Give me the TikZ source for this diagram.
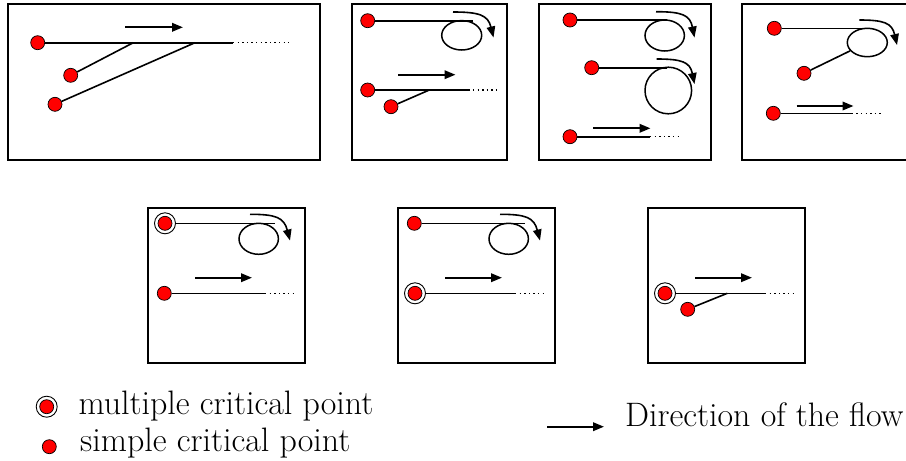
\documentclass[tikz,border=0pt]{standalone}
\usetikzlibrary{arrows.meta,shapes.geometric}
\begin{document}
\begin{tikzpicture}[x=1pt,y=-1pt,
  frame/.style={draw,line width=1.5pt},
  flow/.style={line width=1.6pt},
  dots/.style={line width=1.4pt,dash pattern=on 1.4pt off 3.2pt},
  dirarrow/.style={line width=2pt,-{Triangle[length=11pt,width=8.5pt]}},
  turnarrow/.style={line width=1.6pt,-{Triangle[length=11pt,width=8.5pt]}},
  cp/.style={circle,draw,fill=red,line width=0.7pt,minimum size=14pt,inner sep=0pt},
  ring/.style={circle,draw,line width=0.9pt,minimum size=21pt,inner sep=0pt},
  loop/.style={ellipse,draw,line width=1.5pt,inner sep=0pt},
  lbl/.style={anchor=base west,inner sep=0pt,font=\fontsize{33.9}{40}\selectfont}]
\clip (0,0) rectangle (906,461);
\fill[white] (0,0) rectangle (906,461);

% ---------- Box 1 ----------
\draw[frame] (8,4) rectangle (320,160);
\node[cp] (a1) at (37.7,42.7) {};
\node[cp] (a2) at (70.7,75.3) {};
\node[cp] (a3) at (55,104.3) {};
\coordinate (a1e) at (233,42.7);
\coordinate (a1f) at (289,42.7);
\coordinate (a2e) at (133.3,42.7);
\coordinate (a3e) at (195,42.7);
\draw[flow] (a1) -- (a1e);
\draw[dots] (a1e) -- (a1f);
\draw[flow] (a2) -- (a2e);
\draw[flow] (a3) -- (a3e);
\coordinate (ar1s) at (125,27.3);
\coordinate (ar1e) at (183,27.3);
\draw[dirarrow] (ar1s) -- (ar1e);

% ---------- Box 2 ----------
\draw[frame] (352,4) rectangle (507,160);
\node[cp] (b1) at (367.7,20.7) {};
\coordinate (b1e) at (473,20.7);
\draw[flow] (b1) -- (b1e);
\node[loop,minimum width=40pt,minimum height=29.4pt] (be) at (461.7,35.3) {};
\coordinate (bt1) at (453,12);
\coordinate (bt2) at (493.5,37.5);
\draw[turnarrow] (bt1) .. controls (479,12) and (488,15) .. (bt2);
\coordinate (ar2s) at (398.3,74.7);
\coordinate (ar2e) at (455.5,74.7);
\draw[dirarrow] (ar2s) -- (ar2e);
\node[cp] (b2) at (367.7,90) {};
\coordinate (b2e) at (468.3,90);
\coordinate (b2f) at (500,90);
\draw[flow] (b2) -- (b2e);
\draw[dots] (b2e) -- (b2f);
\node[cp] (b3) at (391,106.7) {};
\coordinate (b3e) at (429.3,90);
\draw[flow] (b3) -- (b3e);

% ---------- Box 3 ----------
\draw[frame] (539,4) rectangle (711,160);
\node[cp] (c1) at (570,20) {};
\coordinate (c1e) at (667,20);
\draw[flow] (c1) -- (c1e);
\node[loop,minimum width=39.4pt,minimum height=31pt] (ce1) at (664.7,35.5) {};
\coordinate (ct1) at (656,11.7);
\coordinate (ct2) at (694.5,37.5);
\draw[turnarrow] (ct1) .. controls (682,11.7) and (690,15) .. (ct2);
\node[cp] (c2) at (591.7,67.7) {};
\coordinate (c2e) at (667,67.7);
\draw[flow] (c2) -- (c2e);
\node[loop,minimum width=46.6pt,minimum height=46.6pt] (ce2) at (668.3,90.5) {};
\coordinate (ct3) at (656.7,59);
\coordinate (ct4) at (694.5,84);
\draw[turnarrow] (ct3) .. controls (682,59) and (690,62) .. (ct4);
\coordinate (ar3s) at (593.3,128.3);
\coordinate (ar3e) at (650.5,128.3);
\draw[dirarrow] (ar3s) -- (ar3e);
\node[cp] (c3) at (570,136.7) {};
\coordinate (c3e) at (650,136.7);
\coordinate (c3f) at (679,136.7);
\draw[flow] (c3) -- (c3e);
\draw[dots] (c3e) -- (c3f);

% ---------- Box 4 ----------
\draw[frame] (742,4) rectangle (915,160);
\node[cp] (d1) at (774.3,28.3) {};
\coordinate (d1e) at (868.3,28.3);
\draw[flow] (d1) -- (d1e);
\node[loop,minimum width=40pt,minimum height=28.4pt] (de) at (867.3,42.5) {};
\coordinate (dt1) at (859.3,20);
\coordinate (dt2) at (897,45);
\draw[turnarrow] (dt1) .. controls (884,20) and (892,23) .. (dt2);
\node[cp] (d2) at (804,73.3) {};
\draw[flow] (d2) -- (de);
\coordinate (ar4s) at (796.7,106);
\coordinate (ar4e) at (853.5,106);
\draw[dirarrow] (ar4s) -- (ar4e);
\node[cp] (d3) at (773.3,113.3) {};
\coordinate (d3e) at (851.7,113.3);
\coordinate (d3f) at (882,113.3);
\draw[flow] (d3) -- (d3e);
\draw[dots] (d3e) -- (d3f);

% ---------- Box 5 ----------
\draw[frame] (148,208) rectangle (305,363);
\node[ring] (e1r) at (165,223.3) {};
\node[cp] (e1) at (165,223.3) {};
\coordinate (e1e) at (275,223.3);
\draw[flow] (e1r) -- (e1e);
\node[loop,minimum width=39.4pt,minimum height=31pt] (ee) at (258.7,238.8) {};
\coordinate (et1) at (250,214.3);
\coordinate (et2) at (290,240.5);
\draw[turnarrow] (et1) .. controls (276,214.3) and (284,217.5) .. (et2);
\coordinate (ar5s) at (195,277.7);
\coordinate (ar5e) at (252,277.7);
\draw[dirarrow] (ar5s) -- (ar5e);
\node[cp] (e2) at (164.3,293.3) {};
\coordinate (e2e) at (265,293.3);
\coordinate (e2f) at (296,293.3);
\draw[flow] (e2) -- (e2e);
\draw[dots] (e2e) -- (e2f);

% ---------- Box 6 ----------
\draw[frame] (398,208) rectangle (555,363);
\node[cp] (f1) at (414.3,223.3) {};
\coordinate (f1e) at (525,223.3);
\draw[flow] (f1) -- (f1e);
\node[loop,minimum width=39.4pt,minimum height=31pt] (fe) at (508.7,238.8) {};
\coordinate (ft1) at (500,214.3);
\coordinate (ft2) at (540,240.5);
\draw[turnarrow] (ft1) .. controls (526,214.3) and (534,217.5) .. (ft2);
\coordinate (ar6s) at (445,277.7);
\coordinate (ar6e) at (502,277.7);
\draw[dirarrow] (ar6s) -- (ar6e);
\node[ring] (f2r) at (415,293.3) {};
\node[cp] (f2) at (415,293.3) {};
\coordinate (f2e) at (515,293.3);
\coordinate (f2f) at (546,293.3);
\draw[flow] (f2r) -- (f2e);
\draw[dots] (f2e) -- (f2f);

% ---------- Box 7 ----------
\draw[frame] (648,208) rectangle (805,363);
\coordinate (ar7s) at (695,277.7);
\coordinate (ar7e) at (752,277.7);
\draw[dirarrow] (ar7s) -- (ar7e);
\node[ring] (g1r) at (665,293.3) {};
\node[cp] (g1) at (665,293.3) {};
\coordinate (g1e) at (765,293.3);
\coordinate (g1f) at (796,293.3);
\draw[flow] (g1r) -- (g1e);
\draw[dots] (g1e) -- (g1f);
\node[cp] (g2) at (687.7,309.3) {};
\coordinate (g2e) at (727.3,293.3);
\draw[flow] (g2) -- (g2e);

% ---------- Legend ----------
\node[ring] (lmr) at (46.7,406.7) {};
\node[cp] (lm) at (46.7,406.7) {};
\node[lbl] (lmt) at (78.3,414.3) {multiple critical point};
\node[cp] (ls) at (49.3,446.7) {};
\node[lbl] (lst) at (80,451.7) {simple critical point};
\coordinate (las) at (547.3,426.7);
\coordinate (lae) at (604,426.7);
\draw[dirarrow] (las) -- (lae);
\node[lbl] (lat) at (625,426.7) {Direction of the flow};
\end{tikzpicture}
\end{document}
